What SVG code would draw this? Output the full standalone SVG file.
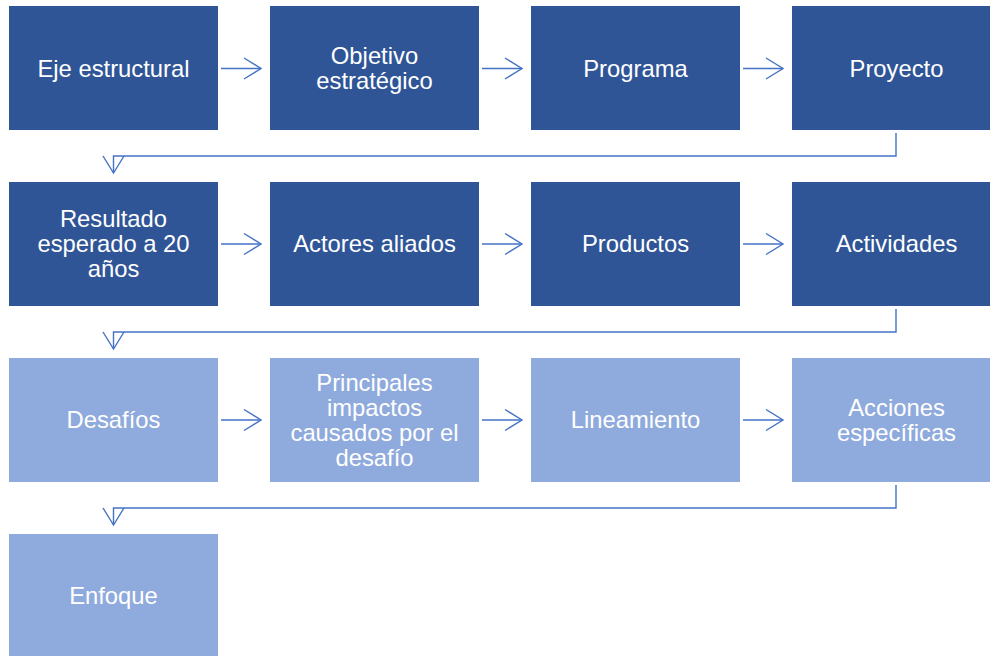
<svg xmlns="http://www.w3.org/2000/svg" width="990" height="656" viewBox="0 0 990 656">
<style>
.d{fill:#2F5597}
.l{fill:#8FAADC}
.t{fill:#fff;font-family:"Liberation Sans",Arial,sans-serif;font-size:23.8px;text-anchor:middle}
.c{fill:none;stroke:#4472C4;stroke-width:1.4}
</style>
<defs>
<marker id="ah" markerUnits="userSpaceOnUse" viewBox="0 0 20 24" refX="18" refY="12" markerWidth="20" markerHeight="24" orient="auto">
<path d="M1,1.5 L18,12 L1,22.5" fill="none" stroke="#4472C4" stroke-width="1.4"/>
</marker>
</defs>
<rect width="990" height="656" fill="#fff"/>
<g id="connectors">
<path class="c" d="M221,68.5 H261" marker-end="url(#ah)"/>
<path class="c" d="M482,68.5 H522" marker-end="url(#ah)"/>
<path class="c" d="M743,68.5 H783" marker-end="url(#ah)"/>
<path class="c" d="M896,133 V156 H113.5 V173" marker-end="url(#ah)"/>
<path class="c" d="M221,244 H261" marker-end="url(#ah)"/>
<path class="c" d="M482,244 H522" marker-end="url(#ah)"/>
<path class="c" d="M743,244 H783" marker-end="url(#ah)"/>
<path class="c" d="M896,309 V332 H113.5 V349" marker-end="url(#ah)"/>
<path class="c" d="M221,420 H261" marker-end="url(#ah)"/>
<path class="c" d="M482,420 H522" marker-end="url(#ah)"/>
<path class="c" d="M743,420 H783" marker-end="url(#ah)"/>
<path class="c" d="M896,485 V508 H113.5 V525" marker-end="url(#ah)"/>
</g>
<g id="n1"><rect class="d" x="9" y="6" width="209" height="124"/><text class="t" x="113.5" y="76.5">Eje estructural</text></g>
<g id="n2"><rect class="d" x="270" y="6" width="209" height="124"/><text class="t" x="374.5" y="64">Objetivo</text><text class="t" x="374.5" y="89">estratégico</text></g>
<g id="n3"><rect class="d" x="531" y="6" width="209" height="124"/><text class="t" x="635.5" y="76.5">Programa</text></g>
<g id="n4"><rect class="d" x="792" y="6" width="209" height="124"/><text class="t" x="896.5" y="76.5">Proyecto</text></g>
<g id="n5"><rect class="d" x="9" y="182" width="209" height="124"/><text class="t" x="113.5" y="227">Resultado</text><text class="t" x="113.5" y="252">esperado a 20</text><text class="t" x="113.5" y="277">años</text></g>
<g id="n6"><rect class="d" x="270" y="182" width="209" height="124"/><text class="t" x="374.5" y="252">Actores aliados</text></g>
<g id="n7"><rect class="d" x="531" y="182" width="209" height="124"/><text class="t" x="635.5" y="252">Productos</text></g>
<g id="n8"><rect class="d" x="792" y="182" width="209" height="124"/><text class="t" x="896.5" y="252">Actividades</text></g>
<g id="n9"><rect class="l" x="9" y="358" width="209" height="124"/><text class="t" x="113.5" y="428">Desafíos</text></g>
<g id="n10"><rect class="l" x="270" y="358" width="209" height="124"/><text class="t" x="374.5" y="391">Principales</text><text class="t" x="374.5" y="416">impactos</text><text class="t" x="374.5" y="441">causados por el</text><text class="t" x="374.5" y="466">desafío</text></g>
<g id="n11"><rect class="l" x="531" y="358" width="209" height="124"/><text class="t" x="635.5" y="428">Lineamiento</text></g>
<g id="n12"><rect class="l" x="792" y="358" width="209" height="124"/><text class="t" x="896.5" y="416">Acciones</text><text class="t" x="896.5" y="441">específicas</text></g>
<g id="n13"><rect class="l" x="9" y="534" width="209" height="124"/><text class="t" x="113.5" y="604">Enfoque</text></g>
</svg>
